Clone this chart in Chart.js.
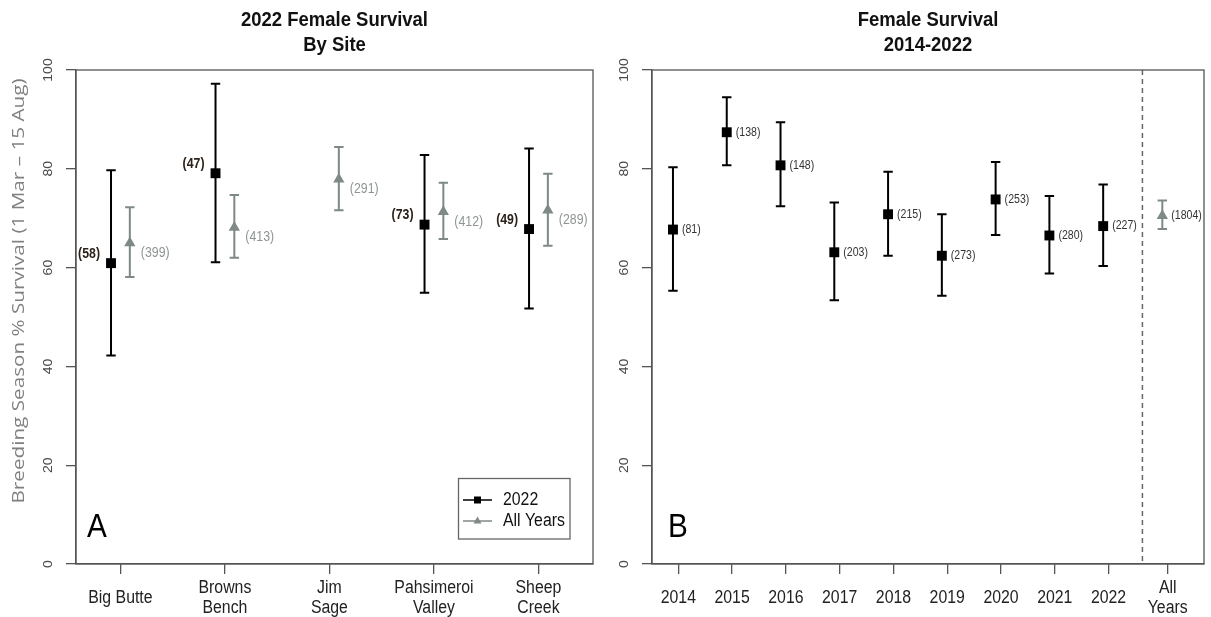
<!DOCTYPE html>
<html>
<head>
<meta charset="utf-8">
<script src="https://cdn.jsdelivr.net/npm/chart.js@4.4.1/dist/chart.umd.min.js"></script>
<style>
  html, body { margin: 0; padding: 0; background: #fff; }
  #wrap { position: relative; width: 1211px; height: 617px; }
  canvas { position: absolute; top: 0; }
</style>
</head>
<body>
<div id="wrap">
  <canvas id="chartA" width="600" height="617" style="left:0"></canvas>
  <canvas id="chartB" width="611" height="617" style="left:600px"></canvas>
</div>
<script>
// Panel A - survival by site
const siteLabels = [['Big Butte'], ['Browns', 'Bench'], ['Jim', 'Sage'], ['Pahsimeroi', 'Valley'], ['Sheep', 'Creek']];
const site2022 = [60.9, 79.1, null, 68.7, 67.8];
const site2022Lo = [42.2, 61.1, null, 54.9, 51.7];
const site2022Hi = [79.7, 97.2, null, 82.8, 84.1];
const site2022N = ['(58)', '(47)', null, '(73)', '(49)'];
const siteAll = [65.0, 68.1, 77.9, 71.3, 71.6];
const siteAllLo = [58.1, 62.0, 71.6, 65.8, 64.4];
const siteAllHi = [72.2, 74.7, 84.4, 77.2, 79.0];
const siteAllN = ['(399)', '(413)', '(291)', '(412)', '(289)'];

// Panel B - survival by year
const yearLabels = [['2014'], ['2015'], ['2016'], ['2017'], ['2018'], ['2019'], ['2020'], ['2021'], ['2022'], ['All', 'Years']];
const yearVals = [67.7, 87.4, 80.7, 63.1, 70.8, 62.4, 73.8, 66.5, 68.4];
const yearLo = [55.3, 80.7, 72.4, 53.4, 62.4, 54.3, 66.6, 58.8, 60.3];
const yearHi = [80.3, 94.5, 89.4, 73.2, 79.4, 70.8, 81.4, 74.5, 76.8];
const yearN = ['(81)', '(138)', '(148)', '(203)', '(215)', '(273)', '(253)', '(280)', '(227)'];
const allYearsVal = [70.5];
const allYearsLo = [67.8];
const allYearsHi = [73.6];
const allYearsN = ['(1804)'];

const yTicks = [0, 20, 40, 60, 80, 100];

const SANS = '"Liberation Sans", Arial, sans-serif';
const SQUEEZE = 0.88; // text in the source is a bit condensed
const BLACK = '#000000';
const GREY = '#7f8985';
const AXIS = '#555555';

// where things sit on the x scale
const sitePos = siteLabels.map((l, i) => i + 1);
const yearPos = yearLabels.map((l, i) => i < 9 ? i + 1 : 10.1);

// condensed text helper
function text(ctx, str, x, y, font, align, sx) {
  ctx.save();
  ctx.translate(x, y);
  ctx.scale(sx || SQUEEZE, 1);
  ctx.font = font;
  ctx.textAlign = align;
  ctx.fillText(str, 0, 0);
  ctx.restore();
}

// error bars drawn under the points
const errorBars = {
  id: 'errorBars',
  beforeDatasetsDraw(chart, args, opts) {
    const { ctx, scales: { x, y } } = chart;
    ctx.save();
    ctx.lineWidth = 2;
    opts.sets.forEach(s => {
      ctx.strokeStyle = s.color;
      s.xs.forEach((xv, i) => {
        if (s.lo[i] == null) return;
        const px = x.getPixelForValue(xv);
        const p1 = y.getPixelForValue(s.lo[i]);
        const p2 = y.getPixelForValue(s.hi[i]);
        ctx.beginPath();
        ctx.moveTo(px, p1); ctx.lineTo(px, p2);
        ctx.moveTo(px - 4.7, p1); ctx.lineTo(px + 4.7, p1);
        ctx.moveTo(px - 4.7, p2); ctx.lineTo(px + 4.7, p2);
        ctx.stroke();
      });
    });
    ctx.restore();
  }
};

// sample size labels next to points
const pointLabels = {
  id: 'pointLabels',
  afterDatasetsDraw(chart, args, opts) {
    const { ctx, scales: { x, y } } = chart;
    ctx.save();
    ctx.textBaseline = 'middle';
    opts.sets.forEach(s => {
      ctx.fillStyle = s.color;
      s.texts.forEach((t, i) => {
        if (t == null) return;
        text(ctx, t, x.getPixelForValue(s.xs[i]) + s.dx, y.getPixelForValue(s.ys[i]) + s.dy, s.font, s.align);
      });
    });
    ctx.restore();
  }
};

// box, tick labels, titles, panel letter
const frame = {
  id: 'frame',
  afterDraw(chart, args, opts) {
    const { ctx, chartArea: a, scales: { x, y } } = chart;
    ctx.save();

    if (opts.dashAt) {
      const px = x.getPixelForValue(opts.dashAt);
      ctx.strokeStyle = '#666';
      ctx.lineWidth = 1.5;
      ctx.setLineDash([5, 4]);
      ctx.beginPath();
      ctx.moveTo(px, a.top); ctx.lineTo(px, a.bottom);
      ctx.stroke();
      ctx.setLineDash([]);
    }

    ctx.strokeStyle = AXIS;
    ctx.lineWidth = 1.3;
    ctx.strokeRect(a.left, a.top, a.right - a.left, a.bottom - a.top);

    // y tick labels, rotated like base R
    ctx.fillStyle = '#4a4a4a';
    ctx.font = '14px ' + SANS;
    ctx.textAlign = 'center';
    ctx.textBaseline = 'middle';
    yTicks.forEach(v => {
      ctx.save();
      ctx.translate(a.left - 27, y.getPixelForValue(v));
      ctx.rotate(-Math.PI / 2);
      ctx.scale(1, SQUEEZE);
      ctx.fillText(String(v), 0, 0);
      ctx.restore();
    });

    // x category labels
    ctx.fillStyle = '#222';
    opts.xLabels.forEach((lines, i) => {
      const px = x.getPixelForValue(opts.xPos[i]);
      const y0 = 598 - (lines.length - 1) * 10;
      lines.forEach((ln, j) => text(ctx, ln, px, y0 + j * 20, '18px ' + SANS, 'center'));
    });

    // title
    const cx = (a.left + a.right) / 2;
    ctx.fillStyle = '#111';
    text(ctx, opts.title[0], cx, 20, 'bold 21px ' + SANS, 'center');
    text(ctx, opts.title[1], cx, 45, 'bold 21px ' + SANS, 'center');

    // panel letter
    ctx.textBaseline = 'alphabetic';
    ctx.fillStyle = '#000';
    text(ctx, opts.letter, a.left + opts.letterDx, 537, '33px ' + SANS, 'left', 0.9);

    if (opts.yTitle) {
      ctx.save();
      ctx.font = '18px "Open Sans", sans-serif';
      const along = 425 / ctx.measureText(opts.yTitle).width;
      ctx.translate(19, 291);
      ctx.rotate(-Math.PI / 2);
      ctx.scale(along, SQUEEZE);
      ctx.textAlign = 'center';
      ctx.textBaseline = 'middle';
      ctx.fillStyle = '#808080';
      ctx.fillText(opts.yTitle, 0, 0);
      ctx.restore();
    }

    if (opts.legend) {
      ctx.strokeStyle = '#666';
      ctx.lineWidth = 1.3;
      ctx.strokeRect(458.5, 478.5, 111.5, 60.5);
      ctx.textBaseline = 'middle';
      // 2022
      ctx.strokeStyle = BLACK; ctx.lineWidth = 1.5;
      ctx.beginPath(); ctx.moveTo(463, 500); ctx.lineTo(492, 500); ctx.stroke();
      ctx.fillStyle = BLACK;
      ctx.fillRect(474, 496.5, 7, 7);
      ctx.fillStyle = '#111';
      text(ctx, '2022', 503, 500, '18px ' + SANS, 'left');
      // All Years
      ctx.strokeStyle = GREY;
      ctx.beginPath(); ctx.moveTo(463, 521); ctx.lineTo(492, 521); ctx.stroke();
      ctx.fillStyle = GREY;
      ctx.beginPath();
      ctx.moveTo(477.5, 516.5); ctx.lineTo(481.5, 523.5); ctx.lineTo(473.5, 523.5);
      ctx.closePath(); ctx.fill();
      ctx.fillStyle = '#111';
      text(ctx, 'All Years', 503, 521, '18px ' + SANS, 'left');
    }
    ctx.restore();
  }
};

function axes(xMin, xMax, xTickPos) {
  return {
    x: {
      type: 'linear', min: xMin, max: xMax,
      afterBuildTicks: s => { s.ticks = xTickPos.map(v => ({ value: v })); },
      ticks: { display: false },
      grid: { drawOnChartArea: false, tickLength: 10, color: AXIS, lineWidth: 1.3 },
      border: { display: true, color: AXIS, width: 1.3 },
      afterFit: s => { s.height = 10; }
    },
    y: {
      min: 0, max: 100,
      afterBuildTicks: s => { s.ticks = yTicks.map(v => ({ value: v })); },
      ticks: { display: false },
      grid: { drawOnChartArea: false, tickLength: 10, color: AXIS, lineWidth: 1.3 },
      border: { display: true, color: AXIS, width: 1.3 },
      afterFit: s => { s.width = 10; }
    }
  };
}

// Panel A
const sx2022 = sitePos.map(p => p - 0.09);
const sxAll = sitePos.map(p => p + 0.09);

new Chart(document.getElementById('chartA'), {
  type: 'scatter',
  data: {
    datasets: [
      {
        label: '2022',
        data: site2022.map((v, i) => ({ x: sx2022[i], y: v })),
        pointStyle: 'rect', pointRadius: 7, backgroundColor: BLACK, borderWidth: 0
      },
      {
        label: 'All Years',
        data: siteAll.map((v, i) => ({ x: sxAll[i], y: v })),
        pointStyle: 'triangle', pointRadius: 6.5, backgroundColor: GREY, borderWidth: 0
      }
    ]
  },
  options: {
    responsive: false,
    animation: false,
    layout: { padding: { left: 66, top: 70, right: 4, bottom: 43 } },
    scales: axes(0.575, 5.522, sitePos),
    plugins: {
      legend: { display: false },
      tooltip: { enabled: false },
      errorBars: { sets: [
        { xs: sx2022, lo: site2022Lo, hi: site2022Hi, color: BLACK },
        { xs: sxAll, lo: siteAllLo, hi: siteAllHi, color: GREY }
      ] },
      pointLabels: { sets: [
        { xs: sx2022, ys: site2022, texts: site2022N, dx: -11, dy: -9, align: 'right', font: 'bold 14px ' + SANS, color: '#2b2118' },
        { xs: sxAll, ys: siteAll, texts: siteAllN, dx: 11, dy: 10, align: 'left', font: '14px ' + SANS, color: '#8f9592' }
      ] },
      frame: {
        title: ['2022 Female Survival', 'By Site'],
        letter: 'A', letterDx: 11,
        xLabels: siteLabels, xPos: sitePos,
        yTitle: 'Breeding Season % Survival (1 Mar \u2013 15 Aug)',
        legend: true
      }
    }
  },
  plugins: [errorBars, pointLabels, frame]
});

// Panel B
const yx = yearVals.map((v, i) => yearPos[i] - 0.1);
const ax = allYearsVal.map(() => yearPos[9] - 0.1);

new Chart(document.getElementById('chartB'), {
  type: 'scatter',
  data: {
    datasets: [
      {
        label: 'Year',
        data: yearVals.map((v, i) => ({ x: yx[i], y: v })),
        pointStyle: 'rect', pointRadius: 7, backgroundColor: BLACK, borderWidth: 0
      },
      {
        label: 'All Years',
        data: allYearsVal.map((v, i) => ({ x: ax[i], y: v })),
        pointStyle: 'triangle', pointRadius: 6.5, backgroundColor: GREY, borderWidth: 0
      }
    ]
  },
  options: {
    responsive: false,
    animation: false,
    layout: { padding: { left: 42, top: 70, right: 2.5, bottom: 43 } },
    scales: axes(0.51, 10.775, yearPos),
    plugins: {
      legend: { display: false },
      tooltip: { enabled: false },
      errorBars: { sets: [
        { xs: yx, lo: yearLo, hi: yearHi, color: BLACK },
        { xs: ax, lo: allYearsLo, hi: allYearsHi, color: GREY }
      ] },
      pointLabels: { sets: [
        { xs: yx, ys: yearVals, texts: yearN, dx: 9, dy: 0, align: 'left', font: '12px ' + SANS, color: '#333' },
        { xs: ax, ys: allYearsVal, texts: allYearsN, dx: 9, dy: 0, align: 'left', font: '12px ' + SANS, color: '#333' }
      ] },
      frame: {
        title: ['Female Survival', '2014-2022'],
        letter: 'B', letterDx: 16,
        xLabels: yearLabels, xPos: yearPos,
        dashAt: 9.63
      }
    }
  },
  plugins: [errorBars, pointLabels, frame]
});
</script>
</body>
</html>
